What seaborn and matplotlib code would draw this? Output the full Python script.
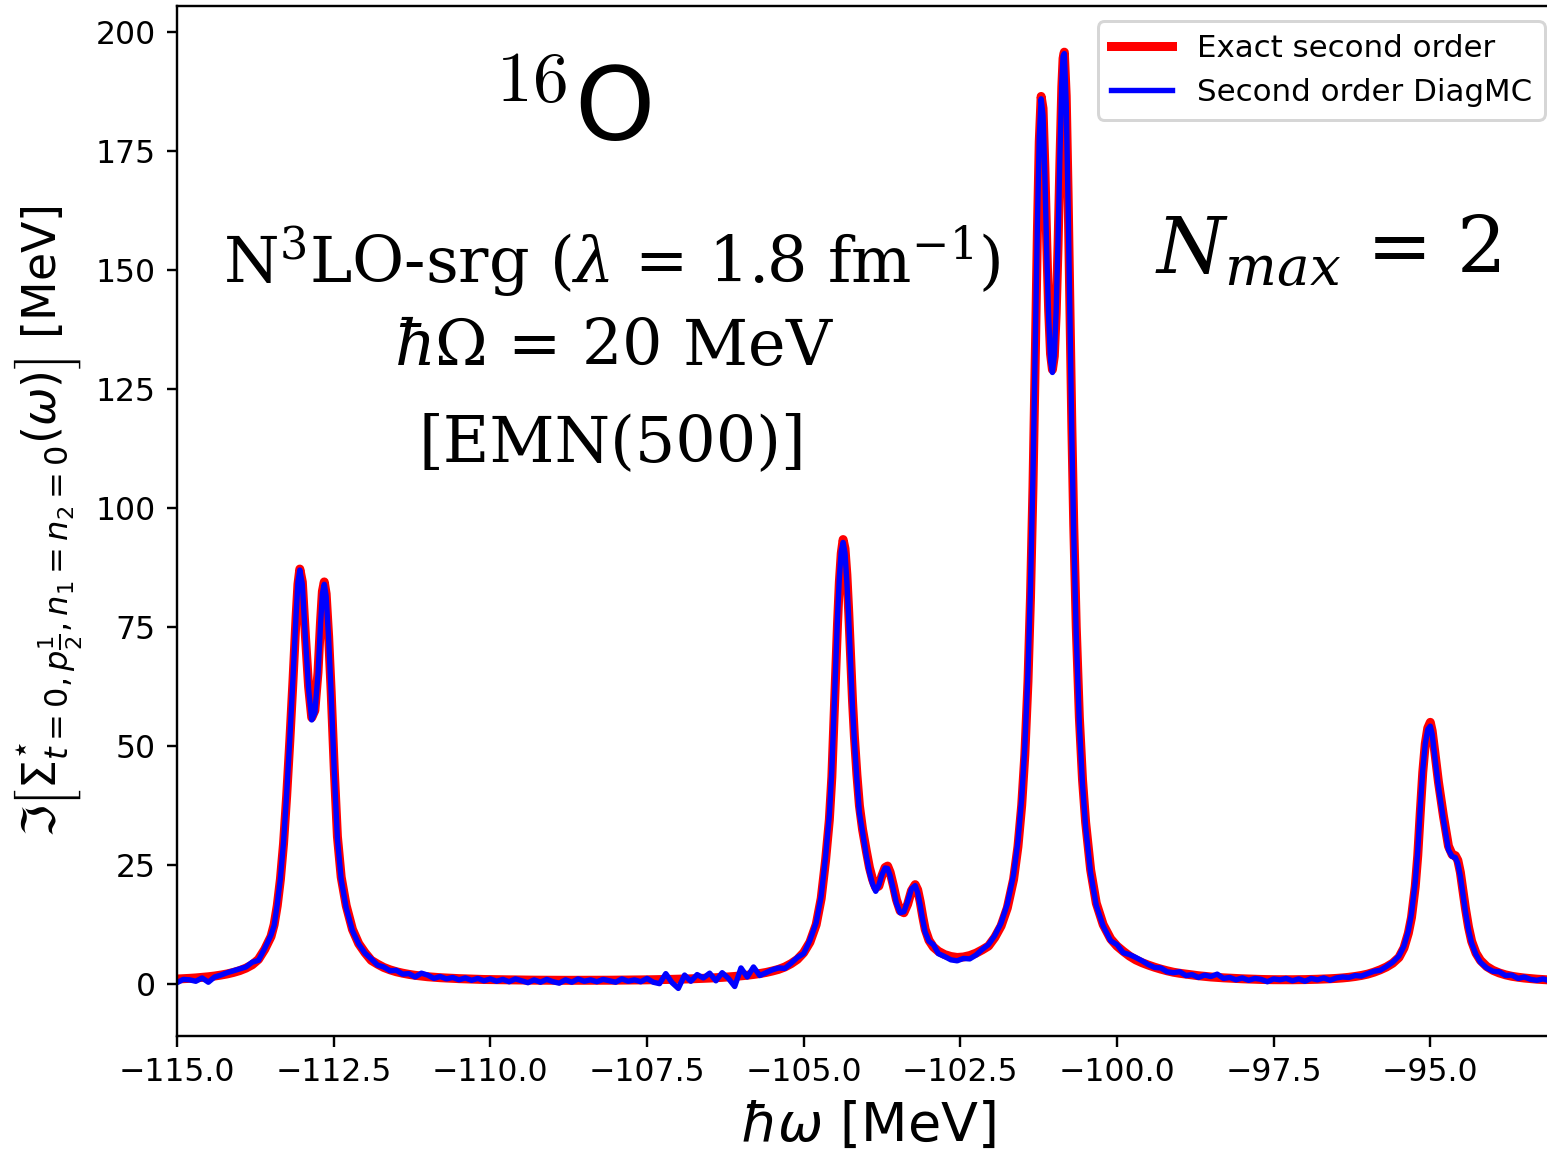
import matplotlib
matplotlib.use("Agg")
import matplotlib.pyplot as plt
import seaborn as sns
import pandas as pd

# ---------------- data ----------------
x_omega = [
    -115.0, -114.9, -114.8, -114.7, -114.6, -114.5, -114.4, -114.3, -114.2, -114.1, -114.0, -113.9, -113.8,
    -113.7, -113.6, -113.5, -113.45, -113.4, -113.35, -113.3, -113.25, -113.2, -113.15, -113.1, -113.07,
    -113.04, -113.0, -112.95, -112.9, -112.85, -112.8, -112.75, -112.71, -112.68, -112.65, -112.62, -112.58,
    -112.54, -112.49, -112.44, -112.38, -112.3, -112.2, -112.1, -112.0,
    -111.9, -111.8, -111.7, -111.6, -111.5, -111.4, -111.3, -111.2, -111.1, -111.0,
    -110.9, -110.8, -110.7, -110.6, -110.5, -110.4, -110.3, -110.2, -110.1, -110.0,
    -109.9, -109.8, -109.7, -109.6, -109.5, -109.4, -109.3, -109.2, -109.1, -109.0,
    -108.9, -108.8, -108.7, -108.6, -108.5, -108.4, -108.3, -108.2, -108.1, -108.0,
    -107.9, -107.8, -107.7, -107.6, -107.5, -107.4, -107.3, -107.2, -107.1, -107.0,
    -106.9, -106.8, -106.7, -106.6, -106.5, -106.4, -106.3, -106.2, -106.1, -106.0,
    -105.9, -105.8, -105.7, -105.6,
    -105.5, -105.4, -105.3, -105.2, -105.1, -105.0, -104.9, -104.8,
    -104.72, -104.65, -104.59, -104.55, -104.52, -104.49, -104.46, -104.43, -104.40, -104.37,
    -104.34, -104.31, -104.28, -104.25, -104.22, -104.19, -104.15, -104.11, -104.06, -104.0,
    -103.95, -103.9, -103.85, -103.8, -103.75, -103.7, -103.66, -103.62, -103.57, -103.52,
    -103.46, -103.40, -103.34, -103.28, -103.22, -103.18, -103.14, -103.10, -103.06, -103.0,
    -102.93, -102.85, -102.75, -102.65, -102.55, -102.45, -102.35, -102.25, -102.15,
    -102.05, -101.95, -101.85, -101.75, -101.65, -101.58, -101.52, -101.47, -101.42, -101.38,
    -101.34, -101.30, -101.27, -101.24, -101.21, -101.18, -101.15, -101.12, -101.09, -101.06,
    -101.03, -101.0, -100.97, -100.94, -100.91, -100.88, -100.86, -100.84, -100.81, -100.78,
    -100.75, -100.72, -100.69, -100.65, -100.60, -100.55, -100.50, -100.42, -100.33, -100.22,
    -100.1,
    -100.0, -99.9, -99.8, -99.7, -99.6, -99.5, -99.4, -99.3, -99.2, -99.1,
    -99.0, -98.9, -98.8, -98.7, -98.6, -98.5, -98.4, -98.3, -98.2, -98.1,
    -98.0, -97.9, -97.8, -97.7, -97.6, -97.5, -97.4, -97.3, -97.2, -97.1,
    -97.0, -96.9, -96.8, -96.7, -96.6, -96.5, -96.4, -96.3, -96.2, -96.1,
    -96.0, -95.9, -95.8, -95.7,
    -95.6, -95.5, -95.42, -95.35, -95.3, -95.24, -95.2, -95.16, -95.12, -95.08,
    -95.04, -95.0, -94.97, -94.93, -94.87, -94.79, -94.71, -94.65, -94.6, -94.56,
    -94.52, -94.48, -94.44, -94.39, -94.34, -94.27, -94.2, -94.1,
    -94.0, -93.9, -93.8, -93.7, -93.6, -93.5, -93.4, -93.3, -93.2, -93.1,
]

sigma_exact = [
    1.07, 1.13, 1.21, 1.30, 1.42, 1.54, 1.70, 1.90, 2.14, 2.45, 2.84, 3.36, 4.07,
    5.2, 7.3, 10.0, 12.5, 16.5, 22.0, 29.5, 39.5, 51.0, 63.5, 77.0, 84.0,
    87.2, 84.5, 73.0, 62.5, 56.0, 57.5, 65.5, 76.0, 82.5, 84.5, 82.0, 73.0,
    61.5, 45.0, 31.0, 22.5, 16.5, 11.5, 8.5, 6.6,
    5.0, 4.2, 3.5, 3.0, 2.6, 2.3, 2.05, 1.85, 1.7, 1.55,
    1.45, 1.35, 1.28, 1.2, 1.15, 1.1, 1.05, 1.0, 0.97, 0.95,
    0.93, 0.91, 0.89, 0.87, 0.85, 0.84, 0.83, 0.82, 0.81, 0.80,
    0.80, 0.80, 0.80, 0.80, 0.80, 0.80, 0.81, 0.81, 0.82, 0.83,
    0.84, 0.85, 0.86, 0.88, 0.90, 0.92, 0.94, 0.97, 1.00, 1.03,
    1.07, 1.11, 1.16, 1.21, 1.27, 1.34, 1.42, 1.51, 1.61, 1.73,
    1.87, 2.03, 2.22, 2.45,
    2.75, 3.1, 3.6, 4.3, 5.2, 6.6, 8.8, 12.5,
    18.0, 26.0, 34.5, 43.5, 54.0, 65.0, 75.5, 84.5, 90.5, 93.4,
    91.5, 86.0, 78.0, 68.5, 59.5, 52.0, 44.0, 37.5, 32.5, 28.0,
    24.5, 22.0, 20.3, 20.6, 22.8, 24.5, 24.8, 23.5, 20.8, 17.8,
    15.4, 15.0, 16.8, 19.6, 20.9, 19.8, 17.3, 14.2, 11.5, 9.2,
    7.8, 6.9, 6.2, 5.8, 5.6, 5.7, 6.0, 6.5, 7.2,
    8.0, 9.8, 12.2, 16.0, 22.0, 28.9, 37.6, 48.2, 63.6, 81.2,
    104.7, 134.3, 157.9, 177.0, 186.5, 184.0, 171.4, 155.4, 141.5, 132.4,
    129.1, 131.9, 140.9, 155.3, 172.8, 188.5, 194.5, 195.8, 186.6, 166.1,
    141.2, 117.1, 96.6, 75.1, 56.0, 43.0, 34.0, 24.0, 17.0, 12.5,
    9.5,
    8.0, 6.9, 5.9, 5.1, 4.5, 4.0, 3.55, 3.15, 2.8, 2.5,
    2.28, 2.1, 1.92, 1.76, 1.62, 1.5, 1.4, 1.32, 1.25, 1.18,
    1.12, 1.07, 1.02, 0.98, 0.95, 0.93, 0.92, 0.92, 0.92, 0.93,
    0.95, 0.98, 1.02, 1.07, 1.13, 1.2, 1.3, 1.43, 1.6, 1.82,
    2.1, 2.5, 3.0, 3.6,
    4.4, 5.6, 7.6, 10.7, 14.0, 20.5, 27.0, 36.0, 44.5, 50.5,
    53.8, 55.0, 53.2, 49.0, 42.5, 35.3, 29.0, 27.2, 27.0, 26.0,
    23.5, 19.8, 16.0, 12.0, 9.0, 6.5, 5.0, 3.7,
    2.9, 2.35, 1.95, 1.65, 1.45, 1.28, 1.15, 1.04, 0.95, 0.88,
]

sigma_diagmc = [
    0.3, 1.0, 0.9, 0.6, 1.3, 0.4, 1.5, 1.9, 2.4, 2.8, 3.2, 3.6, 4.6,
    5.0, 7.5, 10.3, 12.3, 16.8, 22.2, 29.8, 40.0, 51.5, 64.0, 77.5, 84.5,
    87.0, 84.0, 72.5, 62.0, 55.5, 57.0, 65.0, 75.5, 82.0, 84.0, 81.5, 72.5,
    61.0, 44.5, 30.5, 22.0, 16.0, 11.2, 8.4, 6.5,
    5.3, 4.0, 3.6, 2.8, 2.9, 2.1, 2.2, 1.5, 2.3, 1.9,
    1.2, 1.6, 1.1, 1.4, 0.9, 1.3, 0.8, 1.2, 0.7, 1.1,
    0.6, 1.0, 0.5, 1.1, 0.7, 0.3, 0.9, 0.4, 1.0, 0.5,
    0.2, 0.9, 0.4, 1.1, 0.6, 0.9, 0.5, 1.0, 0.7, 0.4,
    1.1, 0.6, 0.9, 0.5, 1.2, 0.4, 0.1, 2.2, 0.3, -0.9,
    1.9, 0.6, 2.0, 1.3, 2.3, 0.7, 2.4, 1.2, -0.5, 3.4,
    1.5, 3.6, 1.8, 2.4,
    3.0, 3.4, 3.3, 4.4, 5.6, 6.4, 9.2, 12.9,
    18.5, 26.8, 35.5, 45.0, 55.5, 66.5, 77.0, 85.5, 91.0, 92.8,
    90.5, 84.5, 76.5, 67.0, 58.0, 51.0, 43.0, 36.0, 32.0, 27.0,
    23.5, 21.0, 19.5, 20.8, 23.0, 24.4, 24.3, 22.8, 20.0, 17.0,
    15.0, 15.2, 17.4, 20.0, 20.7, 19.2, 16.6, 13.5, 10.9, 9.0,
    8.3, 6.4, 5.8, 5.1, 4.9, 5.4, 5.3, 6.1, 7.3,
    8.3, 10.2, 12.8, 16.8, 23.0, 30.0, 39.0, 50.0, 65.5, 83.5,
    107.0, 136.5, 159.5, 178.0, 186.0, 182.5, 169.5, 153.5, 140.0, 131.0,
    128.5, 132.0, 141.5, 156.5, 174.5, 189.5, 195.0, 195.5, 185.0, 164.0,
    139.0, 115.0, 94.5, 73.5, 54.5, 42.0, 33.0, 23.3, 16.5, 12.2,
    9.1,
    8.3, 6.6, 6.2, 5.6, 4.9, 4.1, 3.5, 3.4, 2.6, 2.4,
    2.6, 1.8, 2.0, 1.4, 1.9, 1.6, 2.1, 1.2, 1.4, 0.9,
    1.3, 0.8, 1.2, 1.0, 0.5, 1.1, 0.9, 1.2, 0.7, 1.1,
    0.6, 1.2, 0.9, 1.3, 0.8, 1.3, 1.5, 1.4, 1.8, 1.7,
    2.2, 2.7, 2.9, 3.7,
    4.6, 5.9, 8.0, 11.2, 14.8, 21.5, 28.0, 37.0, 45.0, 50.5,
    53.5, 54.2, 52.5, 48.0, 41.5, 34.5, 28.2, 26.8, 26.6, 25.3,
    22.7, 19.0, 15.3, 11.4, 8.6, 6.2, 4.6, 3.4,
    2.7, 2.6, 1.8, 1.9, 1.2, 1.5, 1.0, 0.8, 1.1, 0.7,
]

x_ticks = [-115.0, -112.5, -110.0, -107.5, -105.0, -102.5, -100.0, -97.5, -95.0]
y_ticks = [0, 25, 50, 75, 100, 125, 150, 175, 200]
series_labels = ["Exact second order", "Second order DiagMC"]

# ---------------- figure ----------------
DPI = 216
fig = plt.figure(figsize=(1547 / DPI, 1150 / DPI), dpi=DPI)
ax = fig.add_axes([177 / 1547, 114 / 1150, 1383 / 1547, 1030 / 1150])

df = pd.DataFrame({"omega": x_omega, "exact": sigma_exact, "mc": sigma_diagmc})
sns.lineplot(data=df, x="omega", y="exact", color="red", linewidth=3,
             label=series_labels[0], ax=ax, estimator=None, sort=False)
sns.lineplot(data=df, x="omega", y="mc", color="blue", linewidth=1.8,
             label=series_labels[1], ax=ax, estimator=None, sort=False)

ax.set_xlim(-115.0, -92.93)
ax.set_ylim(-10.9, 205.5)
ax.set_xticks(x_ticks)
ax.set_yticks(y_ticks)
ax.tick_params(labelsize=10.5)

ax.set_xlabel(r"$\hbar\omega$ [MeV]", fontsize=18)
ax.set_ylabel(r"$\Im\left[\Sigma^{\star}_{t=0,p\frac{1}{2},n_1=n_2=0}(\omega)\right]$ [MeV]",
              fontsize=15.3)

ax.legend(loc="upper right", fontsize=10.3)

ax.text(0.2856, 0.896, r"$^{16}$O", transform=ax.transAxes, ha="center", va="center",
        fontsize=34, math_fontfamily="cm")
serif = dict(transform=ax.transAxes, ha="center", va="center", fontsize=21.2,
             family="DejaVu Serif", math_fontfamily="dejavuserif")
ax.text(0.3142, 0.7524, r"N$^3$LO-srg ($\lambda$ = 1.8 fm$^{-1}$)", **serif)
ax.text(0.3160, 0.6680, r"$\hbar\Omega$ = 20 MeV", **serif)
ax.text(0.3149, 0.5748, "[EMN(500)]", **serif)
ax.text(0.8319, 0.7621, r"$N_{max}$ = 2", transform=ax.transAxes, ha="center", va="center",
        fontsize=26, family="DejaVu Serif", math_fontfamily="dejavuserif")

fig.savefig("out.png", dpi=DPI)
